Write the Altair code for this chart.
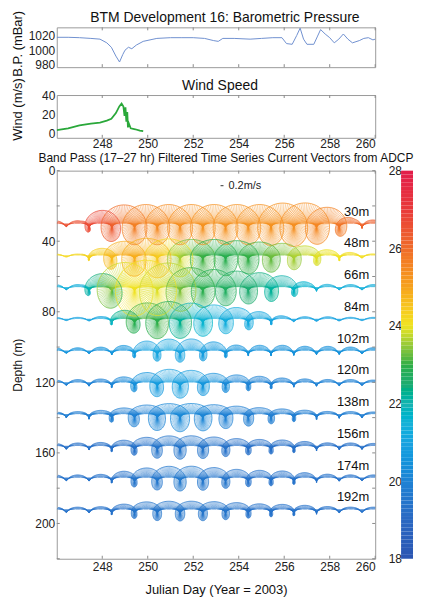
import altair as alt
import numpy as np
import pandas as pd

# ---------------- data ----------------
# Barometric pressure (mBar)
bp_day = [246.0, 246.5, 247.0, 247.5, 247.9, 248.2, 248.4, 248.6, 248.76, 248.9, 249.0, 249.15,
          249.3, 249.5, 249.8, 250.1, 250.4, 251.0, 251.5, 252.0, 252.5, 252.9, 253.1, 253.3,
          253.8, 254.5, 255.0, 255.5, 255.9, 256.1, 256.35, 256.55, 256.7, 256.85, 257.0, 257.3,
          257.45, 257.6, 257.8, 258.0, 258.2, 258.4, 258.6, 258.8, 259.0, 259.3, 259.5, 259.7,
          259.9, 260.0]
bp_mbar = [1017.5, 1017.5, 1017, 1016, 1015, 1010, 1004, 992, 984, 994, 1000, 1004,
           1002, 1007, 1012, 1014, 1016, 1017, 1017, 1017, 1016, 1013, 1012, 1016,
           1016, 1015, 1016, 1017, 1017, 1009, 1008, 1020, 1030, 1015, 1008, 1008,
           1018, 1028, 1022, 1017, 1010, 1015, 1022, 1015, 1010, 1013, 1016, 1017,
           1014, 1015]

# Wind speed (m/s)
wind_day = [246.0, 246.5, 247.0, 247.5, 247.9, 248.2, 248.4, 248.6, 248.75, 248.85, 248.93,
            248.98, 249.02, 249.06, 249.1, 249.13, 249.17, 249.25, 249.45, 249.65, 249.8]
wind_ms = [3, 5, 8, 10, 11, 13, 15, 21, 28, 31, 28, 18, 27, 12, 22, 6, 10, 5, 4, 2.5, 2]

# ADCP band-passed current: daily envelope of the southward amplitude (cm/s),
# ratio of northward to southward excursion, and temperature (deg C) per depth
env_day = [246, 247, 248, 249, 250, 251, 252, 253, 254, 255, 256, 257, 258, 259, 260]
depths = [30, 48, 66, 84, 102, 120, 138, 156, 174, 192]
amp_cms = {
    30:  [9, 9, 44, 60, 60, 60, 60, 60, 60, 60, 65, 65, 50, 16, 11],
    48:  [5, 5, 28, 55, 65, 62, 60, 60, 55, 50, 45, 35, 20, 10, 5],
    66:  [8, 8, 45, 80, 85, 75, 60, 55, 50, 45, 35, 15, 8, 8, 8],
    84:  [5, 5, 8, 30, 55, 58, 52, 46, 37, 23, 9, 7, 7, 5, 5],
    102: [8, 8, 10, 15, 28, 33, 33, 24, 15, 15, 15, 12, 12, 10, 8],
    120: [8, 10, 12, 20, 36, 47, 42, 31, 26, 21, 15, 12, 10, 10, 8],
    138: [10, 12, 18, 30, 44, 50, 50, 44, 37, 30, 24, 18, 12, 12, 10],
    156: [9, 11, 13, 22, 33, 38, 38, 33, 27, 24, 22, 16, 11, 11, 9],
    174: [9, 9, 11, 22, 33, 38, 38, 33, 27, 24, 22, 16, 11, 9, 9],
    192: [9, 9, 11, 22, 31, 33, 33, 31, 27, 22, 20, 16, 11, 9, 9],
}
north_ratio = {30: 0.9, 48: 0.75, 66: 0.9, 84: 0.85, 102: 1.0,
               120: 0.8, 138: 0.6, 156: 0.75, 174: 0.85, 192: 0.7}
temp_c = {
    30:  [26.5, 26.6, 26.8, 25.8, 25.5, 25.4, 25.3, 25.3, 25.3, 25.3, 25.3, 25.4, 25.6, 26.0, 26.3],
    48:  [24.2, 24.2, 24.4, 24.9, 24.8, 24.1, 23.2, 22.9, 22.9, 23.1, 23.4, 23.8, 24.0, 24.1, 24.1],
    66:  [21.4, 21.4, 22.6, 24.0, 24.1, 23.7, 23.0, 22.8, 22.6, 22.4, 22.0, 21.6, 21.4, 21.4, 21.4],
    84:  [21.0, 21.0, 21.1, 22.6, 23.2, 22.7, 21.8, 21.4, 21.2, 21.1, 21.0, 21.0, 21.0, 21.0, 21.0],
    102: [20.5, 20.5, 20.5, 20.6, 21.0, 21.1, 20.9, 20.7, 20.5, 20.5, 20.4, 20.4, 20.4, 20.4, 20.4],
    120: [20.0, 20.0, 20.0, 20.2, 20.6, 20.9, 20.8, 20.4, 20.1, 20.0, 20.0, 20.0, 20.0, 20.0, 20.0],
    138: [19.8, 19.8, 19.8, 19.9, 20.0, 20.2, 20.2, 20.0, 19.9, 19.8, 19.8, 19.8, 19.8, 19.8, 19.8],
    156: [19.3, 19.3, 19.3, 19.3, 19.4, 19.5, 19.5, 19.4, 19.3, 19.3, 19.3, 19.3, 19.3, 19.3, 19.3],
    174: [19.4, 19.4, 19.4, 19.4, 19.5, 19.6, 19.6, 19.5, 19.4, 19.4, 19.4, 19.4, 19.4, 19.4, 19.4],
    192: [19.4, 19.4, 19.4, 19.4, 19.5, 19.5, 19.5, 19.5, 19.4, 19.4, 19.4, 19.4, 19.4, 19.4, 19.4],
}
inertial_period_day = 1.0      # clockwise near-inertial rotation
south_phase_day = 249.42       # a time at which the current points south
sample_step_day = 1.0 / 72.0   # 20-minute ADCP samples
scale_ref_cms = 20             # "0.2m/s" reference

# colour bar (jet-like, as printed)
cbar_ticks = [18, 20, 22, 24, 26, 28]
jet_domain = [18, 19, 20, 21, 21.5, 22, 22.5, 23, 23.5, 24, 24.5, 25, 26, 27, 28]
jet_range = ['#2b55b2', '#2a68c2', '#1f82d4', '#1aa3e0', '#1ab2d8', '#1cb3b0', '#20ac70',
             '#2fae45', '#95c93a', '#f0e424', '#f7c620', '#f6a21e', '#ef6b2a', '#e8393a', '#e21c4a']
x_ticks = [248, 250, 252, 254, 256, 258, 260]
depth_ticks = list(range(0, 221, 20))

title_bp = "BTM Development 16: Barometric Pressure"
title_wind = "Wind Speed"
title_main = "Band Pass (17\u201327 hr) Filtered Time Series Current Vectors from ADCP"

# ---------------- build tables ----------------
KX = 0.013    # days per cm/s on the time axis
KY = 0.2      # metres of depth per cm/s

t = np.arange(246.0, 260.0 + 1e-9, sample_step_day)
rows = []
for d in depths:
    A = np.interp(t, env_day, amp_cms[d])
    T = np.interp(t, env_day, temp_c[d])
    th = -np.pi / 2 - 2 * np.pi * (t - south_phase_day) / inertial_period_day
    u = A * np.cos(th)
    s = np.sin(th)
    v = A * s * np.where(s > 0, north_ratio[d], 1.0)
    rows.append(pd.DataFrame({"t": t, "depth": d, "u": u, "v": v, "temp": T,
                              "u_next": np.append(u[1:], u[-1]), "v_next": np.append(v[1:], v[-1]),
                              "t_next": np.append(t[1:], t[-1])}))
sticks = pd.concat(rows, ignore_index=True)

bp_df = pd.DataFrame({"day": bp_day, "bp": bp_mbar})
wind_df = pd.DataFrame({"day": wind_day, "wind": wind_ms})
lab_df = pd.DataFrame({"depth": depths, "label": [f"{d}m" for d in depths]})
lev = np.arange(18.0, 28.0, 0.1)
cbar_df = pd.DataFrame({"lo": lev, "hi": lev + 0.1, "c": lev + 0.05})
ref_df = pd.DataFrame({"t": [253.2], "depth": [8.5], "u": [scale_ref_cms / 2], "label": ["0.2m/s"]})
xt_df = pd.DataFrame({"day": x_ticks})
yt_df = pd.DataFrame({"depth": depth_ticks})

FONT = "Liberation Sans"
W = 320
H_MAIN = 390
H_WIND = 43
xdom = [246, 260]
color_scale = alt.Scale(domain=jet_domain, range=jet_range, clamp=True)
TX = -32  # y-axis title position (px left of plot)
TICK = "#8a8a8a"


def title_text(txt, size, x, y):
    return alt.Chart(pd.DataFrame({"txt": [txt]})).mark_text(
        font=FONT, fontSize=size, color="#111", align="center", baseline="alphabetic"
    ).encode(x=alt.value(x), y=alt.value(y), text="txt:N")


def x_inner_ticks(h):
    top = alt.Chart(xt_df).mark_rule(color=TICK, strokeWidth=1).encode(
        x="day:Q", y=alt.value(0), y2=alt.value(3))
    bot = alt.Chart(xt_df).mark_rule(color=TICK, strokeWidth=1).encode(
        x="day:Q", y=alt.value(h), y2=alt.value(h - 3))
    return [top, bot]


# ---------------- barometric pressure ----------------
bp_line = alt.Chart(bp_df).mark_line(color="#7090d0", strokeWidth=1, clip=True).encode(
    x=alt.X("day:Q", scale=alt.Scale(domain=xdom, nice=False),
            axis=alt.Axis(values=x_ticks, labels=False, title=None, grid=False)),
    y=alt.Y("bp:Q", scale=alt.Scale(domain=[977, 1031], nice=False, zero=False),
            axis=alt.Axis(values=[980, 1000, 1020], format="d", title="B.P. (mBar)", grid=False,
                          titleX=TX, titleY=16, titleFontSize=13)),
)
bp = alt.layer(bp_line, *x_inner_ticks(40), title_text(title_bp, 14, 169, -5)).properties(width=W, height=40)

# ---------------- wind ----------------
wind_line = alt.Chart(wind_df).mark_line(color="#2aa83a", strokeWidth=1.8, clip=True).encode(
    x=alt.X("day:Q", scale=alt.Scale(domain=xdom, nice=False),
            axis=alt.Axis(values=x_ticks, grid=False, labelPadding=1, title=None)),
    y=alt.Y("wind:Q", scale=alt.Scale(domain=[-5, 40], nice=False),
            axis=alt.Axis(values=[0, 20, 40], title="Wind (m/s)", grid=False,
                          titleX=TX, titleY=14, titleFontSize=13)),
)
wind = alt.layer(wind_line, *x_inner_ticks(H_WIND), title_text(title_wind, 14, 164, -5)).properties(
    width=W, height=H_WIND)

# ---------------- current vectors ----------------
base = alt.Chart(sticks)
stick_layer = base.transform_calculate(
    x2=f"datum.t + datum.u * {KX}", y2=f"datum.depth - datum.v * {KY}"
).mark_rule(strokeWidth=1.0, opacity=0.4, clip=True).encode(
    x=alt.X("t:Q", scale=alt.Scale(domain=xdom, nice=False),
            axis=alt.Axis(values=x_ticks, title="Julian Day (Year = 2003)", grid=False,
                          labelPadding=3, titlePadding=11, titleFontSize=13)),
    x2="x2:Q",
    y=alt.Y("depth:Q", scale=alt.Scale(domain=[0, 220], reverse=True, nice=False),
            axis=alt.Axis(values=depth_ticks, title="Depth (m)", grid=False,
                          titleX=TX, titleFontSize=12)),
    y2="y2:Q",
    color=alt.Color("temp:Q", scale=color_scale, legend=None),
)

tips = base.transform_calculate(
    xa=f"datum.t + datum.u * {KX}", ya=f"datum.depth - datum.v * {KY}",
    xb=f"datum.t_next + datum.u_next * {KX}", yb=f"datum.depth - datum.v_next * {KY}"
).mark_rule(strokeWidth=0.9, opacity=0.8, clip=True).encode(
    x="xa:Q", x2="xb:Q", y="ya:Q", y2="yb:Q",
    color=alt.Color("temp:Q", scale=color_scale, legend=None),
)

labels = alt.Chart(lab_df).mark_text(align="right", baseline="middle", fontSize=13, font=FONT,
                                     color="#111", dy=-12).encode(
    x=alt.value(314), y="depth:Q", text="label:N")

ref_line = alt.Chart(ref_df).transform_calculate(x2=f"datum.t + datum.u * {KX}").mark_rule(
    color="#555", strokeWidth=1.2).encode(x="t:Q", x2="x2:Q", y="depth:Q")
ref_text = alt.Chart(ref_df).mark_text(align="left", baseline="middle", fontSize=11, font=FONT,
                                       color="#222", dx=8).encode(x="t:Q", y="depth:Q", text="label:N")

y_left = alt.Chart(yt_df).mark_rule(color=TICK, strokeWidth=1).encode(
    y="depth:Q", x=alt.value(0), x2=alt.value(3))
y_right = alt.Chart(yt_df).mark_rule(color=TICK, strokeWidth=1).encode(
    y="depth:Q", x=alt.value(W), x2=alt.value(W - 3))

cbar = alt.Chart(cbar_df).mark_rect().encode(
    x=alt.value(346), x2=alt.value(358),
    y=alt.Y("lo:Q", scale=alt.Scale(domain=[18, 28], nice=False, zero=False),
            axis=alt.Axis(orient="right", offset=13, values=cbar_ticks, domain=False, ticks=False,
                          labelPadding=0, title=None, grid=False)),
    y2="hi:Q",
    color=alt.Color("c:Q", scale=color_scale, legend=None),
)

main = alt.layer(
    alt.layer(stick_layer, tips, labels, ref_line, ref_text, y_left, y_right,
              *x_inner_ticks(H_MAIN), title_text(title_main, 12, 170, -9)),
    cbar,
).resolve_scale(y="independent").properties(width=W, height=H_MAIN)

chart = alt.vconcat(bp, wind, main, spacing=0).properties(
    padding={"left": 3, "top": 0, "right": 0, "bottom": 0}
).configure_view(
    stroke="#9a9a9a", strokeWidth=1
).configure_axis(
    domain=False, tickColor="#999", tickSize=0, labelFont=FONT, labelFontSize=12,
    labelColor="#222", titleFont=FONT, titleFontSize=13, titleFontWeight="normal",
    titleColor="#111", labelPadding=2
)

chart.save("out.html", embed_options={"renderer": "svg", "actions": False})
